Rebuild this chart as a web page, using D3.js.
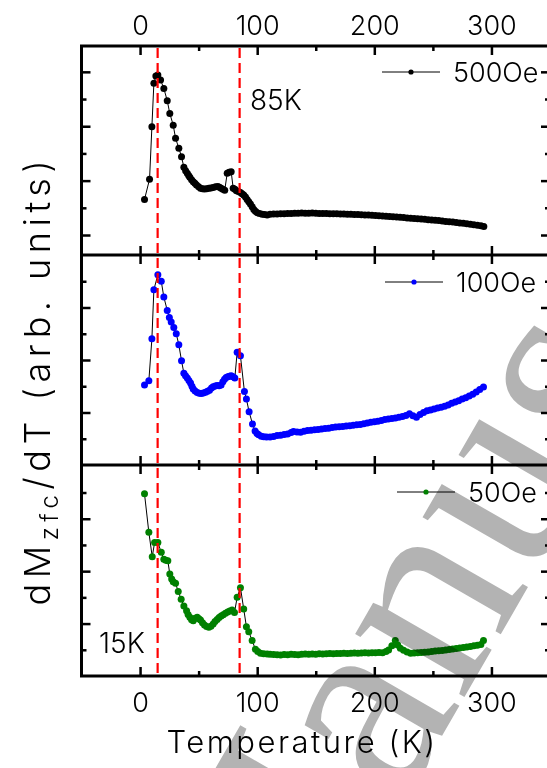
<!DOCTYPE html>
<html>
<head>
<meta charset="utf-8">
<script src="https://cdn.jsdelivr.net/npm/d3@7"></script>
<style>
  body { margin: 0; background: #fff; }
  text { font-family: Inter, "Noto Sans", sans-serif; font-weight: 300; }
</style>
</head>
<body>
<div class="chart"></div>
<script>
// field labels and colours
var fields = ["500Oe", "100Oe", "50Oe"];
var colors = ["#000000", "#0000ff", "#008000"];
var xTicks = [0, 100, 200, 300];
var xMinor = [50, 150, 250];
var markers = [15, 85];

// dM/dT curves (temperature K, arb. units)
var temps500 = [3.8, 8.1, 10.1, 11.8, 13.5, 15.2, 17.5, 20.3, 23.2, 25.4, 28.3, 30.3, 33.1, 35.4, 37.4, 38.9, 40.3, 41.5, 42.5, 44.0, 45.4, 46.8, 48.2, 50.0, 51.6, 53.3, 55.0, 56.9, 58.7, 60.5, 62.4, 64.4, 66.4, 67.8, 69.2, 70.7, 72.3, 74.4, 76.0, 77.8, 79.5, 81.0, 82.3, 84.0, 85.7, 87.1, 88.5, 90.0, 91.4, 92.8, 94.2, 95.7, 97.1, 98.5, 100.0, 102.0, 104.2, 106.3, 108.5,
  111, 114, 117, 120, 123, 126, 129, 132, 135, 138, 141, 144, 147, 150, 153, 156, 159, 162, 165, 168, 171, 174, 177, 180, 183, 186, 189, 192, 195, 198, 201, 204, 207, 210, 213, 216, 219, 222, 225, 228, 231, 234, 237, 240, 243, 246, 249, 252, 255, 258, 261, 264, 267, 270, 273, 276, 279, 282, 285, 288, 291, 293.5];
var vals500 = [1.31, 2.05, 3.98, 5.58, 5.85, 5.88, 5.70, 5.39, 4.94, 4.47, 4.04, 3.56, 3.19, 2.88, 2.49, 2.36, 2.27, 2.19, 2.12, 2.03, 1.96, 1.90, 1.84, 1.77, 1.72, 1.70, 1.69, 1.70, 1.72, 1.73, 1.75, 1.77, 1.78, 1.76, 1.72, 1.68, 1.65, 2.27, 2.31, 2.33, 1.72, 1.68, 1.63, 1.60, 1.56, 1.52, 1.47, 1.40, 1.31, 1.22, 1.14, 1.04, 0.94, 0.87, 0.82, 0.79, 0.76, 0.75, 0.74,
  0.76, 0.77, 0.775, 0.78, 0.785, 0.79, 0.79, 0.80, 0.80, 0.81, 0.80, 0.80, 0.805, 0.80, 0.795, 0.79, 0.79, 0.785, 0.78, 0.78, 0.775, 0.77, 0.765, 0.76, 0.755, 0.75, 0.745, 0.74, 0.735, 0.725, 0.72, 0.71, 0.70, 0.69, 0.68, 0.67, 0.66, 0.65, 0.64, 0.63, 0.62, 0.61, 0.60, 0.59, 0.58, 0.565, 0.555, 0.545, 0.53, 0.515, 0.50, 0.49, 0.475, 0.46, 0.445, 0.43, 0.41, 0.395, 0.38, 0.36, 0.34, 0.31];

var temps100 = [3.8, 7.5, 10.1, 11.8, 15.2, 18.1, 20.3, 23.2, 25.0, 26.6, 28.8, 30.9, 33.1, 35.4, 37.4, 38.8, 40.3, 41.7, 43.1, 44.3, 45.4, 47.0, 48.8, 50.5, 52.2, 54.0, 55.9, 57.6, 59.3, 61.0, 62.4, 64.2, 65.8, 67.5, 69.2, 70.7, 72.1, 73.5, 74.9, 76.3, 77.8, 79.4, 80.9, 82.9, 85.7, 89.1, 90.8, 93.1, 96.0, 98.2, 99.8, 101.3, 103.5, 105.6, 108,
  111, 114, 117, 120, 123, 126, 129, 131, 134, 137, 140, 143, 146, 149, 152, 155, 158, 161, 164, 167, 170, 173, 176, 179, 182, 185, 188, 191, 194, 197, 200, 203, 206, 209, 212, 215, 218, 221, 224, 227, 230, 233, 236, 239, 242, 245, 248, 251, 254, 257, 260, 263, 266, 269, 272, 275, 278, 281, 284, 287, 290, 293.2];
var vals100 = [3.05, 3.21, 4.81, 6.68, 7.25, 7.00, 6.40, 5.89, 5.62, 5.45, 5.24, 5.00, 4.58, 3.97, 3.50, 3.40, 3.31, 3.22, 3.12, 3.00, 2.90, 2.82, 2.76, 2.73, 2.72, 2.74, 2.77, 2.81, 2.85, 2.93, 2.98, 3.01, 3.03, 3.02, 3.05, 3.17, 3.27, 3.33, 3.36, 3.38, 3.40, 3.36, 3.31, 4.30, 4.16, 2.80, 2.51, 2.03, 1.56, 1.30, 1.20, 1.15, 1.10, 1.08, 1.07,
  1.07, 1.09, 1.12, 1.13, 1.16, 1.18, 1.24, 1.28, 1.26, 1.25, 1.29, 1.31, 1.32, 1.34, 1.35, 1.37, 1.39, 1.40, 1.43, 1.45, 1.46, 1.47, 1.49, 1.50, 1.51, 1.53, 1.54, 1.57, 1.60, 1.63, 1.65, 1.67, 1.70, 1.73, 1.75, 1.77, 1.79, 1.82, 1.85, 1.89, 1.95, 1.88, 1.82, 1.92, 2.00, 2.07, 2.10, 2.13, 2.17, 2.20, 2.24, 2.29, 2.35, 2.40, 2.45, 2.51, 2.56, 2.63, 2.70, 2.78, 2.88, 2.97];

var temps50 = [3.8, 7.5, 10.4, 12.4, 15.2, 18.1, 20.3, 22.0, 23.7, 25.4, 27.0, 28.3, 30.3, 32.6, 35.1, 37.4, 39.7, 41.0, 42.5, 44.0, 45.4, 47.0, 48.8, 50.2, 51.6, 53.3, 55.0, 56.8, 58.7, 60.5, 62.4, 64.0, 65.8, 67.5, 69.2, 71.0, 72.9, 74.8, 76.6, 78.6, 80.6, 82.9, 85.7, 88.5, 90.8, 92.8, 95.7, 98.5, 100.5, 102.8, 105.5, 108.5,
  111, 114, 117, 120, 123, 126, 129, 132, 135, 138, 141, 144, 147, 150, 153, 156, 159, 162, 165, 168, 171, 174, 177, 180, 183, 186, 189, 192, 195, 198, 201, 204, 207, 210, 212.2, 215, 217.9, 220, 222.2, 225, 228, 231, 234, 237, 240, 243, 246, 249, 252, 255, 258, 261, 264, 267, 270, 273, 276, 279, 282, 285, 288, 291, 293.2];
var vals50 = [6.95, 5.48, 4.55, 5.09, 5.09, 4.72, 4.45, 4.42, 4.40, 3.89, 3.70, 3.60, 3.54, 3.22, 2.93, 2.67, 2.49, 2.35, 2.24, 2.15, 2.11, 2.20, 2.24, 2.18, 2.14, 2.03, 1.95, 1.89, 1.86, 1.90, 1.98, 2.08, 2.16, 2.23, 2.29, 2.34, 2.39, 2.44, 2.48, 2.52, 2.42, 3.00, 3.37, 2.56, 1.88, 1.69, 1.35, 1.02, 0.93, 0.87, 0.85, 0.84,
  0.83, 0.82, 0.81, 0.80, 0.82, 0.81, 0.83, 0.82, 0.81, 0.83, 0.84, 0.83, 0.84, 0.83, 0.85, 0.84, 0.85, 0.86, 0.85, 0.86, 0.86, 0.87, 0.86, 0.87, 0.88, 0.87, 0.88, 0.89, 0.88, 0.89, 0.89, 0.90, 0.89, 0.93, 0.99, 1.15, 1.35, 1.18, 1.06, 0.98, 0.92, 0.87, 0.88, 0.89, 0.90, 0.91, 0.92, 0.93, 0.95, 0.96, 0.97, 0.99, 1.01, 1.03, 1.05, 1.07, 1.09, 1.11, 1.13, 1.15, 1.17, 1.20, 1.35];

// y ranges (arb. units) and tick values for each panel
var yDomains = [[-0.735, 6.95], [0, 8.0], [0, 8.05]];
var yTicks = [[0, 1, 2, 3, 4, 5, 6], [1, 2, 3, 4, 5, 6, 7], [1, 2, 3, 4, 5, 6, 7]];

var series = [
  {temps: temps500, vals: vals500},
  {temps: temps100, vals: vals100},
  {temps: temps50, vals: vals50}
];

//Chart parameters
var svgWidth = 547;
var svgHeight = 768;
var plotLeft = 81.5, plotRight = 550;
var panelTops = [46, 255, 465];
var panelBottoms = [255, 465, 676];

var svg = d3.select(".chart").append("svg")
  .attr("width", svgWidth)
  .attr("height", svgHeight);

var x = d3.scaleLinear().domain([-50, 350]).range([plotLeft, plotRight]);

series.forEach(function(s, i) {
  var top = panelTops[i], bottom = panelBottoms[i];
  var y = d3.scaleLinear().domain(yDomains[i]).range([bottom, top]);
  var g = svg.append("g");
  var pts = s.temps.map(function(t, j) { return [t, s.vals[j]]; });

  // connecting line
  g.append("path")
    .datum(pts)
    .attr("fill", "none")
    .attr("stroke", "#000")
    .attr("stroke-width", 1)
    .attr("d", d3.line().x(d => x(d[0])).y(d => y(d[1])));

  g.selectAll("circle").data(pts).enter().append("circle")
    .attr("cx", d => x(d[0]))
    .attr("cy", d => y(d[1]))
    .attr("r", 3.5)
    .attr("fill", colors[i]);

  // x ticks, inward at top and bottom of each panel
  [[xTicks, 9], [xMinor, 5]].forEach(function(tk) {
    g.append("g").attr("transform", `translate(0,${top})`)
      .call(d3.axisBottom(x).tickValues(tk[0]).tickSize(tk[1]).tickFormat(""));
    g.append("g").attr("transform", `translate(0,${bottom})`)
      .call(d3.axisTop(x).tickValues(tk[0]).tickSize(tk[1]).tickFormat(""));
    var major = yTicks[i].filter(v => v % 2 === 0);
    var minor = yTicks[i].filter(v => v % 2 !== 0);
    var yt = tk[1] === 9 ? major : minor;
    g.append("g").attr("transform", `translate(${plotLeft},0)`)
      .call(d3.axisRight(y).tickValues(yt).tickSize(tk[1]).tickFormat(""));
    g.append("g").attr("transform", `translate(${plotRight},0)`)
      .call(d3.axisLeft(y).tickValues(yt).tickSize(tk[1]).tickFormat(""));
  });

  // legend
  var lx = [382, 385, 397][i], ly = top + [26, 27, 27][i];
  g.append("line").attr("x1", lx).attr("x2", lx + 58).attr("y1", ly).attr("y2", ly)
    .attr("stroke", "#000").attr("stroke-width", 1);
  g.append("circle").attr("cx", lx + 29).attr("cy", ly).attr("r", 2.6).attr("fill", colors[i]);
  g.append("text").attr("x", lx + 71).attr("y", ly + 10)
    .attr("font-size", 27).text(fields[i]);
});

svg.selectAll(".domain").remove();
svg.selectAll(".tick line").attr("stroke", "#000").attr("stroke-width", 2.5);

// red dashed markers
svg.selectAll(".marker").data(markers).enter().append("line")
  .attr("x1", d => x(d)).attr("x2", d => x(d))
  .attr("y1", panelTops[0] + 2).attr("y2", panelBottoms[2] - 2)
  .attr("stroke", "#ff0000").attr("stroke-width", 2.2)
  .attr("stroke-dasharray", "10,5");

// frame
svg.append("rect")
  .attr("x", plotLeft).attr("y", panelTops[0])
  .attr("width", plotRight - plotLeft).attr("height", panelBottoms[2] - panelTops[0])
  .attr("fill", "none").attr("stroke", "#000").attr("stroke-width", 3);
panelBottoms.slice(0, 2).forEach(function(b) {
  svg.append("line").attr("x1", plotLeft).attr("x2", plotRight).attr("y1", b).attr("y2", b)
    .attr("stroke", "#000").attr("stroke-width", 3);
});

// tick labels
var topAxis = svg.append("g").attr("transform", `translate(0,${panelTops[0]})`)
  .call(d3.axisTop(x).tickValues(xTicks).tickSize(0).tickPadding(11));
var botAxis = svg.append("g").attr("transform", `translate(0,${panelBottoms[2]})`)
  .call(d3.axisBottom(x).tickValues(xTicks).tickSize(0).tickPadding(17));
[topAxis, botAxis].forEach(function(a) {
  a.select(".domain").remove();
  a.selectAll("text").attr("font-size", 27).attr("fill", "#000")
    .attr("font-family", "Inter, sans-serif").attr("font-weight", 300);
});

// axis titles
svg.append("text")
  .attr("x", 302).attr("y", 753)
  .attr("text-anchor", "middle")
  .attr("font-size", 31)
  .attr("letter-spacing", 2.5)
  .text("Temperature (K)");

var yl = svg.append("text")
  .attr("transform", "translate(50,380) rotate(-90)")
  .attr("text-anchor", "middle")
  .attr("font-size", 36)
  .attr("letter-spacing", 5.5);
yl.append("tspan").text("dM");
yl.append("tspan").attr("font-size", 24).attr("dy", 8).text("zfc");
yl.append("tspan").attr("dy", -8).text("/dT (arb. units)");

// annotations
svg.append("text").attr("x", 250).attr("y", 110).attr("font-size", 28).text("85K");
svg.append("text").attr("x", 99).attr("y", 653).attr("font-size", 28).text("15K");

// manuscript watermark
svg.append("text")
  .attr("transform", "translate(278,1020) rotate(-60)")
  .style("font-family", "'Liberation Serif', serif")
  .style("font-weight", 400)
  .attr("font-size", 275)
  .attr("fill", "#b3b3b3")
  .style("mix-blend-mode", "multiply")
  .text("Manuscript");
</script>
</body>
</html>
